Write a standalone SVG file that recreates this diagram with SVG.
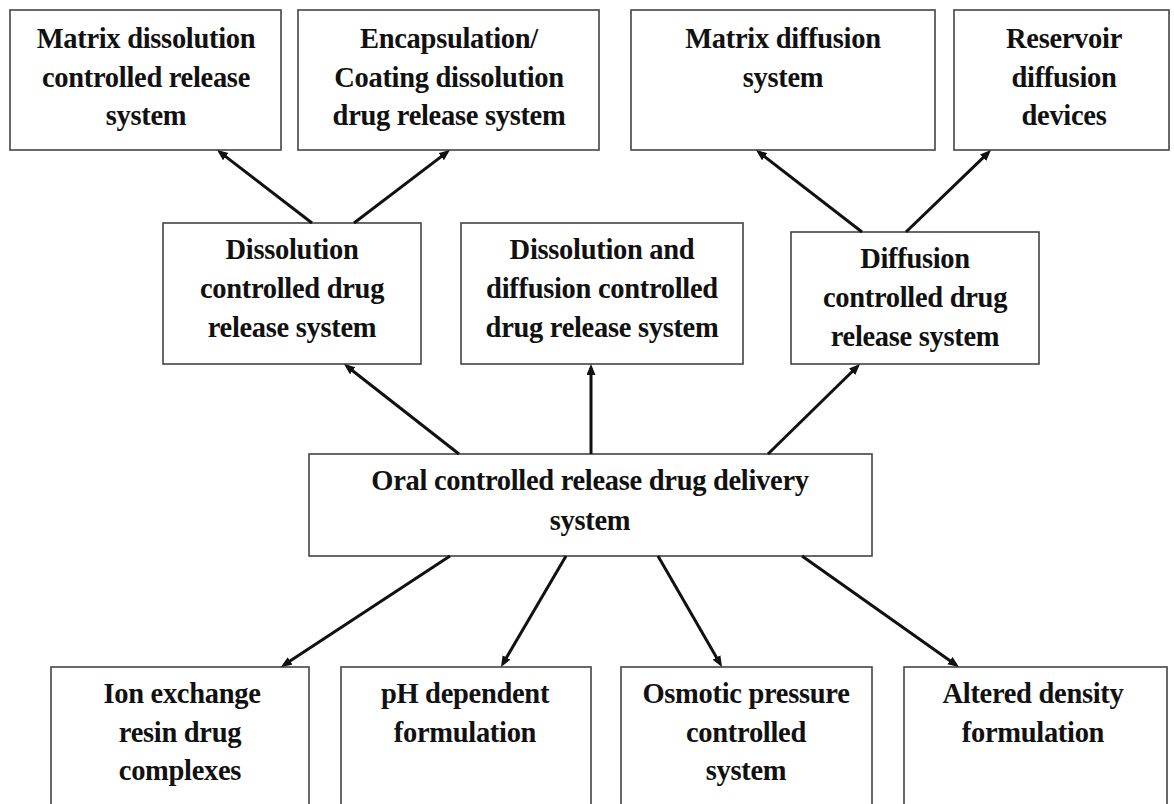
<svg xmlns="http://www.w3.org/2000/svg" width="1174" height="804" viewBox="0 0 1174 804">
<style>
.box{fill:#fff;stroke:#444;stroke-width:1.6}
.t{font-family:"Liberation Serif","Times New Roman",serif;font-weight:bold;font-size:28.5px;letter-spacing:-0.3px;fill:#111;text-anchor:middle}
.c{stroke:#111;stroke-width:3;fill:none;marker-end:url(#ah)}
</style>
<defs>
<marker id="ah" markerUnits="userSpaceOnUse" markerWidth="12" markerHeight="10" refX="7" refY="4.5" orient="auto" viewBox="0 0 12 10">
<path d="M0,0 L11,4.5 L0,9 z" fill="#111"/>
</marker>
</defs>
<rect width="1174" height="804" fill="#fff"/>
<g id="n-matrix-dissolution">
<rect class="box" x="10" y="10" width="271" height="140"/>
<text class="t" x="146" y="48">Matrix dissolution</text>
<text class="t" x="146" y="87">controlled release</text>
<text class="t" x="146" y="125">system</text>
</g>
<g id="n-encapsulation">
<rect class="box" x="298" y="10" width="301" height="140"/>
<text class="t" x="449" y="48">Encapsulation/</text>
<text class="t" x="449" y="87">Coating dissolution</text>
<text class="t" x="449" y="125">drug release system</text>
</g>
<g id="n-matrix-diffusion">
<rect class="box" x="631" y="10" width="304" height="140"/>
<text class="t" x="783" y="48">Matrix diffusion</text>
<text class="t" x="783" y="87">system</text>
</g>
<g id="n-reservoir">
<rect class="box" x="954" y="10" width="215" height="140"/>
<text class="t" x="1064" y="48">Reservoir</text>
<text class="t" x="1064" y="87">diffusion</text>
<text class="t" x="1064" y="125">devices</text>
</g>
<g id="n-dissolution">
<rect class="box" x="163" y="223" width="258" height="141"/>
<text class="t" x="292" y="259">Dissolution</text>
<text class="t" x="292" y="298">controlled drug</text>
<text class="t" x="292" y="337">release system</text>
</g>
<g id="n-dissolution-diffusion">
<rect class="box" x="461" y="223" width="282" height="141"/>
<text class="t" x="602" y="259">Dissolution and</text>
<text class="t" x="602" y="298">diffusion controlled</text>
<text class="t" x="602" y="337">drug release system</text>
</g>
<g id="n-diffusion">
<rect class="box" x="791" y="232" width="248" height="132"/>
<text class="t" x="915" y="268">Diffusion</text>
<text class="t" x="915" y="307">controlled drug</text>
<text class="t" x="915" y="346">release system</text>
</g>
<g id="n-oral">
<rect class="box" x="309" y="454" width="563" height="102"/>
<text class="t" x="590" y="490">Oral controlled release drug delivery</text>
<text class="t" x="590" y="530">system</text>
</g>
<g id="n-ion-exchange">
<rect class="box" x="51" y="667" width="258" height="160"/>
<text class="t" x="182" y="703">Ion exchange</text>
<text class="t" x="180" y="742">resin drug</text>
<text class="t" x="180" y="780">complexes</text>
</g>
<g id="n-ph">
<rect class="box" x="341" y="667" width="250" height="160"/>
<text class="t" x="465" y="703">pH dependent</text>
<text class="t" x="465" y="742">formulation</text>
</g>
<g id="n-osmotic">
<rect class="box" x="621" y="667" width="251" height="160"/>
<text class="t" x="746" y="703">Osmotic pressure</text>
<text class="t" x="746" y="742">controlled</text>
<text class="t" x="746" y="780">system</text>
</g>
<g id="n-altered">
<rect class="box" x="904" y="667" width="263" height="160"/>
<text class="t" x="1033" y="703">Altered density</text>
<text class="t" x="1033" y="742">formulation</text>
</g>
<g id="connectors">
<line class="c" x1="312" y1="223" x2="220.2" y2="152.4"/>
<line class="c" x1="354" y1="223" x2="446.8" y2="152.4"/>
<line class="c" x1="862" y1="232" x2="759.2" y2="152.4"/>
<line class="c" x1="906" y1="232" x2="988.1" y2="152.8"/>
<line class="c" x1="459" y1="454" x2="347.2" y2="366.5"/>
<line class="c" x1="591" y1="454" x2="591" y2="368"/>
<line class="c" x1="768" y1="454" x2="857.1" y2="366.8"/>
<line class="c" x1="450" y1="556" x2="284.3" y2="664.8"/>
<line class="c" x1="566" y1="556" x2="503" y2="663.5"/>
<line class="c" x1="658" y1="556" x2="720" y2="663.5"/>
<line class="c" x1="802" y1="556" x2="955.7" y2="664.7"/>
</g>
</svg>
